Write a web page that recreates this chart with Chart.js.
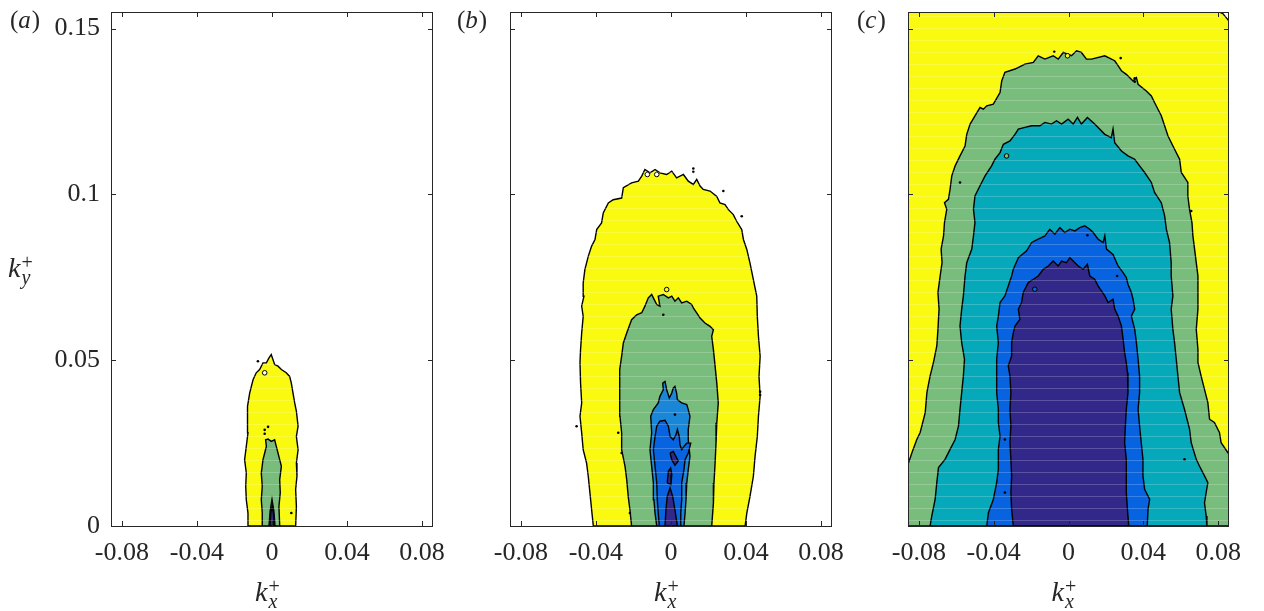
<!DOCTYPE html>
<html>
<head>
<meta charset="utf-8">
<script src="https://cdn.jsdelivr.net/npm/chart.js@4.4.1/dist/chart.umd.min.js"></script>
<style>
  body { margin: 0; background: #fff; width: 1264px; height: 611px; overflow: hidden; position: relative; }
  canvas { position: absolute; top: 0; }
</style>
</head>
<body>
<canvas id="panelA" width="450" height="611" style="left:0px"></canvas>
<canvas id="panelB" width="400" height="611" style="left:450px"></canvas>
<canvas id="panelC" width="414" height="611" style="left:850px"></canvas>
<script>
// axis ticks / limits
const xTicks = [-0.08, -0.04, 0, 0.04, 0.08];
const yTicks = [0, 0.05, 0.1, 0.15];
const xLimits = [-0.0858, 0.0858];
const yLimits = [0, 0.155];

// ---------- panel (a) contours, [kx, ky] ----------
const aYellow = [[-0.0128,0],[-0.0128,0.0039],[-0.0137,0.0079],[-0.0140,0.0120],[-0.0137,0.0160],[-0.0146,0.0200],[-0.0137,0.0240],[-0.0128,0.0281],[-0.0133,0.0321],[-0.0128,0.0361],[-0.0119,0.0401],[-0.0110,0.0421],[-0.0101,0.0441],[-0.0084,0.0462],[-0.0066,0.0472],[-0.0048,0.0492],[-0.0030,0.0492],[-0.0016,0.0507],[-0.0004,0.0517],[0.0014,0.0487],[0.0032,0.0482],[0.0050,0.0472],[0.0076,0.0462],[0.0094,0.0451],[0.0103,0.0431],[0.0112,0.0401],[0.0121,0.0371],[0.0130,0.0346],[0.0139,0.0301],[0.0130,0.0270],[0.0139,0.0230],[0.0130,0.0190],[0.0133,0.0150],[0.0126,0.0110],[0.0130,0.0059],[0.0126,0]];
const aGreen = [[-0.0048,0],[-0.0052,0.0039],[-0.0057,0.0079],[-0.0052,0.0120],[-0.0057,0.0160],[-0.0048,0.0200],[-0.0039,0.0220],[-0.0030,0.0240],[-0.0034,0.0260],[-0.0021,0.0262],[-0.0004,0.0255],[0.0014,0.0260],[0.0023,0.0240],[0.0032,0.0220],[0.0041,0.0200],[0.0050,0.0180],[0.0041,0.0140],[0.0044,0.0100],[0.0037,0.0059],[0.0041,0]];
const aLight = [[-0.0016,0],[-0.0010,0.0045],[0,0.0080],[0.0010,0.0045],[0.0016,0]];
const aNavy = [[-0.0011,0],[-0.0006,0.0040],[0.0001,0.0060],[0.0008,0.0035],[0.0011,0]];
const aSpecks = [[-0.0075,0.0497],[-0.0021,0.0299],[-0.0039,0.0290],[-0.0039,0.0278],[0.0103,0.0039]];
const aRings = [[-0.0039,0.0462]];

// ---------- panel (b) ----------
const bYellow = [[-0.0414,0],[-0.0423,0.0049],[-0.0432,0.0100],[-0.0441,0.0150],[-0.0450,0.0190],[-0.0468,0.0230],[-0.0476,0.0281],[-0.0485,0.0331],[-0.0476,0.0371],[-0.0482,0.0431],[-0.0485,0.0492],[-0.0482,0.0532],[-0.0476,0.0582],[-0.0468,0.0632],[-0.0476,0.0663],[-0.0464,0.0693],[-0.0468,0.0733],[-0.0459,0.0773],[-0.0441,0.0813],[-0.0423,0.0844],[-0.0405,0.0864],[-0.0396,0.0894],[-0.0370,0.0914],[-0.0361,0.0944],[-0.0334,0.0974],[-0.0308,0.0984],[-0.0263,0.0989],[-0.0254,0.1020],[-0.0210,0.1035],[-0.0174,0.1040],[-0.0156,0.1055],[-0.0139,0.1075],[-0.0112,0.1065],[-0.0085,0.1075],[-0.0059,0.1065],[-0.0023,0.1060],[0.0004,0.1070],[0.0030,0.1050],[0.0066,0.1060],[0.0092,0.1040],[0.0119,0.1030],[0.0137,0.1045],[0.0155,0.1025],[0.0172,0.1015],[0.0208,0.1010],[0.0244,0.0994],[0.0261,0.0974],[0.0288,0.0969],[0.0306,0.0954],[0.0332,0.0939],[0.0350,0.0919],[0.0377,0.0894],[0.0386,0.0864],[0.0404,0.0834],[0.0421,0.0793],[0.0439,0.0743],[0.0457,0.0693],[0.0460,0.0632],[0.0466,0.0572],[0.0475,0.0512],[0.0469,0.0451],[0.0475,0.0391],[0.0466,0.0331],[0.0460,0.0270],[0.0448,0.0210],[0.0439,0.0150],[0.0421,0.0089],[0.0404,0.0039],[0.0395,0]];
const bGreen = [[-0.0210,0],[-0.0219,0.0049],[-0.0228,0.0089],[-0.0236,0.0140],[-0.0245,0.0180],[-0.0263,0.0230],[-0.0263,0.0281],[-0.0272,0.0331],[-0.0272,0.0381],[-0.0276,0.0431],[-0.0272,0.0472],[-0.0263,0.0512],[-0.0254,0.0552],[-0.0236,0.0582],[-0.0210,0.0622],[-0.0183,0.0637],[-0.0156,0.0643],[-0.0139,0.0663],[-0.0121,0.0688],[-0.0103,0.0698],[-0.0094,0.0688],[-0.0076,0.0668],[-0.0059,0.0663],[-0.0068,0.0693],[-0.0041,0.0698],[-0.0014,0.0688],[0.0004,0.0693],[0.0021,0.0678],[0.0039,0.0688],[0.0057,0.0673],[0.0084,0.0678],[0.0110,0.0668],[0.0119,0.0658],[0.0137,0.0643],[0.0155,0.0627],[0.0181,0.0612],[0.0208,0.0602],[0.0226,0.0592],[0.0217,0.0572],[0.0226,0.0532],[0.0235,0.0482],[0.0244,0.0431],[0.0252,0.0371],[0.0244,0.0311],[0.0240,0.0250],[0.0235,0.0190],[0.0229,0.0130],[0.0226,0.0069],[0.0217,0]];
const bLight = [[-0.0076,0],[-0.0085,0.0039],[-0.0091,0.0079],[-0.0094,0.0130],[-0.0103,0.0180],[-0.0112,0.0230],[-0.0103,0.0281],[-0.0108,0.0331],[-0.0094,0.0351],[-0.0068,0.0371],[-0.0059,0.0391],[-0.0041,0.0411],[-0.0044,0.0431],[-0.0032,0.0436],[-0.0023,0.0411],[-0.0009,0.0386],[0.0004,0.0401],[0.0012,0.0416],[0.0021,0.0421],[0.0030,0.0401],[0.0034,0.0381],[0.0057,0.0371],[0.0084,0.0366],[0.0092,0.0351],[0.0101,0.0331],[0.0092,0.0291],[0.0092,0.0260],[0.0101,0.0210],[0.0092,0.0170],[0.0084,0.0130],[0.0080,0.0079],[0.0075,0.0039],[0.0069,0]];
const bBlue = [[-0.0062,0],[-0.0068,0.0039],[-0.0073,0.0079],[-0.0076,0.0130],[-0.0085,0.0180],[-0.0094,0.0230],[-0.0085,0.0270],[-0.0076,0.0301],[-0.0059,0.0316],[-0.0032,0.0319],[-0.0014,0.0301],[-0.0005,0.0270],[0.0012,0.0260],[0.0027,0.0276],[0.0034,0.0291],[0.0044,0.0270],[0.0048,0.0245],[0.0057,0.0230],[0.0069,0.0240],[0.0084,0.0250],[0.0105,0.0250],[0.0092,0.0220],[0.0075,0.0200],[0.0069,0.0170],[0.0057,0.0130],[0.0057,0.0079],[0.0052,0.0039],[0.0052,0]];
const bNavy = [[-0.0032,0],[-0.0027,0.0049],[-0.0020,0.0089],[-0.0005,0.0115],[0.0009,0.0089],[0.0021,0.0049],[0.0034,0]];
const bNavyIsle1 = [[-0.0020,0.0130],[-0.0014,0.0165],[-0.0002,0.0175],[0.0004,0.0155],[0.0000,0.0125]];
const bNavyIsle2 = [[-0.0005,0.0220],[0.0012,0.0225],[0.0039,0.0196],[0.0021,0.0183],[0.0004,0.0200]];
const bSpecks = [[0.0119,0.1078],[0.0119,0.1068],[0.0279,0.1010],[0.0377,0.0934],[-0.0041,0.0637],[0.0475,0.0405],[0.0475,0.0395],[-0.0503,0.0301],[-0.0281,0.0281],[-0.0263,0.0220],[-0.0219,0.0039],[0.0021,0.0336]];
const bRings = [[-0.0126,0.1060],[-0.0076,0.1060],[-0.0023,0.0713]];

// ---------- panel (c) ----------
const cYellow = [[-0.0858,0],[-0.0858,0.155],[0.0807,0.155],[0.0825,0.1545],[0.0843,0.1533],[0.0858,0.1523],[0.0858,0]];
const cGreen = [[-0.0858,0],[-0.0858,0.0186],[-0.0837,0.0221],[-0.0811,0.0261],[-0.0793,0.0282],[-0.0766,0.0342],[-0.0757,0.0402],[-0.0740,0.0452],[-0.0722,0.0493],[-0.0704,0.0543],[-0.0698,0.0593],[-0.0692,0.0654],[-0.0698,0.0704],[-0.0686,0.0754],[-0.0676,0.0794],[-0.0681,0.0835],[-0.0668,0.0875],[-0.0663,0.0915],[-0.0651,0.0955],[-0.0663,0.0975],[-0.0642,0.0985],[-0.0633,0.1016],[-0.0624,0.1056],[-0.0606,0.1086],[-0.0580,0.1116],[-0.0553,0.1146],[-0.0544,0.1181],[-0.0526,0.1212],[-0.0500,0.1237],[-0.0473,0.1262],[-0.0455,0.1257],[-0.0437,0.1267],[-0.0402,0.1272],[-0.0366,0.1307],[-0.0357,0.1342],[-0.0340,0.1368],[-0.0286,0.1378],[-0.0233,0.1393],[-0.0188,0.1398],[-0.0162,0.1418],[-0.0126,0.1408],[-0.0082,0.1418],[-0.0055,0.1408],[-0.0028,0.1428],[0.0016,0.1418],[0.0043,0.1433],[0.0069,0.1428],[0.0096,0.1408],[0.0123,0.1408],[0.0194,0.1418],[0.0247,0.1403],[0.0265,0.1388],[0.0283,0.1373],[0.0309,0.1362],[0.0345,0.1342],[0.0363,0.1352],[0.0372,0.1332],[0.0416,0.1312],[0.0443,0.1297],[0.0460,0.1277],[0.0496,0.1237],[0.0532,0.1176],[0.0567,0.1136],[0.0594,0.1106],[0.0603,0.1066],[0.0638,0.1036],[0.0638,0.0995],[0.0647,0.0955],[0.0660,0.0915],[0.0665,0.0875],[0.0674,0.0835],[0.0683,0.0794],[0.0692,0.0754],[0.0692,0.0694],[0.0692,0.0654],[0.0683,0.0593],[0.0692,0.0533],[0.0692,0.0493],[0.0709,0.0452],[0.0727,0.0412],[0.0745,0.0372],[0.0754,0.0322],[0.0780,0.0312],[0.0807,0.0282],[0.0816,0.0251],[0.0858,0.0216],[0.0858,0]];
const cTeal = [[-0.0740,0],[-0.0731,0.0030],[-0.0713,0.0080],[-0.0704,0.0131],[-0.0695,0.0176],[-0.0660,0.0201],[-0.0633,0.0231],[-0.0606,0.0261],[-0.0588,0.0302],[-0.0580,0.0352],[-0.0571,0.0402],[-0.0562,0.0452],[-0.0556,0.0503],[-0.0571,0.0553],[-0.0580,0.0603],[-0.0571,0.0654],[-0.0562,0.0694],[-0.0553,0.0754],[-0.0544,0.0794],[-0.0517,0.0835],[-0.0508,0.0875],[-0.0500,0.0915],[-0.0508,0.0955],[-0.0500,0.0995],[-0.0473,0.1026],[-0.0446,0.1056],[-0.0411,0.1086],[-0.0393,0.1106],[-0.0366,0.1126],[-0.0348,0.1151],[-0.0313,0.1161],[-0.0286,0.1181],[-0.0268,0.1197],[-0.0233,0.1202],[-0.0197,0.1207],[-0.0153,0.1207],[-0.0126,0.1217],[-0.0091,0.1212],[-0.0064,0.1222],[-0.0037,0.1212],[-0.0002,0.1227],[0.0025,0.1212],[0.0048,0.1232],[0.0069,0.1212],[0.0101,0.1232],[0.0140,0.1212],[0.0194,0.1181],[0.0229,0.1171],[0.0238,0.1197],[0.0247,0.1156],[0.0283,0.1131],[0.0318,0.1116],[0.0354,0.1106],[0.0380,0.1086],[0.0407,0.1066],[0.0443,0.1036],[0.0460,0.1006],[0.0496,0.0975],[0.0514,0.0935],[0.0523,0.0895],[0.0540,0.0855],[0.0549,0.0794],[0.0549,0.0754],[0.0558,0.0694],[0.0549,0.0654],[0.0558,0.0593],[0.0567,0.0553],[0.0576,0.0503],[0.0585,0.0452],[0.0594,0.0402],[0.0620,0.0352],[0.0647,0.0292],[0.0656,0.0251],[0.0683,0.0201],[0.0700,0.0181],[0.0727,0.0151],[0.0745,0.0131],[0.0736,0.0101],[0.0727,0.0070],[0.0736,0.0030],[0.0740,0]];
const cBlue = [[-0.0437,0],[-0.0428,0.0040],[-0.0402,0.0080],[-0.0384,0.0131],[-0.0375,0.0171],[-0.0375,0.0231],[-0.0366,0.0271],[-0.0375,0.0312],[-0.0375,0.0352],[-0.0384,0.0402],[-0.0384,0.0452],[-0.0384,0.0503],[-0.0375,0.0553],[-0.0384,0.0603],[-0.0375,0.0633],[-0.0366,0.0674],[-0.0340,0.0694],[-0.0322,0.0724],[-0.0304,0.0754],[-0.0295,0.0774],[-0.0268,0.0809],[-0.0224,0.0830],[-0.0197,0.0855],[-0.0162,0.0865],[-0.0126,0.0875],[-0.0100,0.0895],[-0.0073,0.0880],[-0.0046,0.0900],[-0.0020,0.0885],[0.0007,0.0895],[0.0034,0.0890],[0.0060,0.0900],[0.0087,0.0905],[0.0114,0.0895],[0.0132,0.0885],[0.0158,0.0865],[0.0185,0.0855],[0.0194,0.0875],[0.0203,0.0835],[0.0238,0.0819],[0.0265,0.0784],[0.0292,0.0764],[0.0309,0.0749],[0.0318,0.0729],[0.0336,0.0704],[0.0345,0.0684],[0.0354,0.0654],[0.0336,0.0633],[0.0354,0.0593],[0.0363,0.0553],[0.0372,0.0503],[0.0380,0.0452],[0.0380,0.0402],[0.0372,0.0352],[0.0380,0.0302],[0.0389,0.0251],[0.0398,0.0201],[0.0398,0.0151],[0.0407,0.0111],[0.0434,0.0080],[0.0425,0.0050],[0.0421,0]];
const cNavy = [[-0.0295,0],[-0.0304,0.0050],[-0.0308,0.0101],[-0.0304,0.0151],[-0.0308,0.0201],[-0.0313,0.0251],[-0.0308,0.0302],[-0.0313,0.0352],[-0.0308,0.0402],[-0.0313,0.0452],[-0.0322,0.0483],[-0.0304,0.0513],[-0.0304,0.0553],[-0.0295,0.0583],[-0.0286,0.0603],[-0.0260,0.0623],[-0.0268,0.0654],[-0.0251,0.0674],[-0.0242,0.0704],[-0.0215,0.0734],[-0.0188,0.0744],[-0.0162,0.0754],[-0.0135,0.0774],[-0.0108,0.0784],[-0.0082,0.0799],[-0.0055,0.0784],[-0.0037,0.0799],[-0.0011,0.0794],[0.0007,0.0809],[0.0025,0.0799],[0.0052,0.0784],[0.0078,0.0774],[0.0101,0.0789],[0.0114,0.0754],[0.0140,0.0744],[0.0158,0.0724],[0.0176,0.0709],[0.0194,0.0694],[0.0212,0.0674],[0.0238,0.0684],[0.0247,0.0654],[0.0265,0.0633],[0.0283,0.0603],[0.0292,0.0563],[0.0300,0.0523],[0.0309,0.0493],[0.0315,0.0463],[0.0318,0.0402],[0.0309,0.0352],[0.0304,0.0302],[0.0300,0.0251],[0.0309,0.0201],[0.0309,0.0151],[0.0309,0.0101],[0.0315,0.0050],[0.0322,0]];
const cSpecks = [[-0.0076,0.1430],[0.0279,0.1411],[0.0354,0.1350],[0.0354,0.1340],[-0.0580,0.1036],[0.0101,0.0877],[0.0260,0.0754],[-0.0340,0.0261],[-0.0340,0.0101],[0.0620,0.0201],[0.0656,0.0950]];
const cRings = [[-0.0005,0.1418],[-0.0180,0.0714],[-0.0331,0.1116]];

// ---------- colours ----------
const YELLOW = '#f9fa0f';
const GREEN = '#79bd7c';
const TEAL = '#06a9ba';
const LIGHTBLUE = '#1a86d8';
const BLUE = '#0863e0';
const NAVY = '#32288a';
const FRAME = '#262626';
const FONT = '"Liberation Serif", "DejaVu Serif", serif';

function contour(points, color, order) {
  const closed = points.concat([points[0]]);
  return {
    data: closed.map(p => ({ x: p[0], y: p[1] })),
    showLine: true,
    fill: 'shape',
    backgroundColor: color,
    borderColor: '#000',
    borderWidth: 1.4,
    pointRadius: 0,
    tension: 0,
    order: order
  };
}

function specks(points) {
  return {
    data: points.map(p => ({ x: p[0], y: p[1] })),
    showLine: false,
    pointRadius: 1.3,
    pointBackgroundColor: '#000',
    pointBorderWidth: 0,
    order: -2
  };
}

function rings(points, fills) {
  return {
    data: points.map(p => ({ x: p[0], y: p[1] })),
    showLine: false,
    pointRadius: 2.3,
    pointBackgroundColor: fills,
    pointBorderColor: '#000',
    pointBorderWidth: 1,
    order: -1
  };
}

function drawK(ctx, x, y, sub, size) {
  ctx.fillStyle = FRAME;
  ctx.textBaseline = 'alphabetic';
  ctx.textAlign = 'left';
  ctx.font = 'italic ' + size + 'px ' + FONT;
  ctx.fillText('k', x, y);
  const w = ctx.measureText('k').width;
  ctx.font = 'italic ' + Math.round(size * 0.7) + 'px ' + FONT;
  ctx.fillText(sub, x + w + 1, y + 7);
  ctx.font = Math.round(size * 0.7) + 'px ' + FONT;
  ctx.fillText('+', x + w + 1, y - 8);
}

function drawPanelLabel(ctx, x, y, letter) {
  ctx.fillStyle = FRAME;
  ctx.textBaseline = 'alphabetic';
  ctx.textAlign = 'left';
  ctx.font = '25px ' + FONT;
  ctx.fillText('(', x, y);
  let cx = x + ctx.measureText('(').width;
  ctx.font = 'italic 25px ' + FONT;
  ctx.fillText(letter, cx, y);
  cx += ctx.measureText(letter).width + 1;
  ctx.font = '25px ' + FONT;
  ctx.fillText(')', cx, y);
}

const framePlugin = {
  id: 'frame',
  afterDatasetsDraw(chart, args, opts) {
    const { ctx, chartArea } = chart;
    const { left, right, top, bottom } = chartArea;
    const xs = chart.scales.x, ys = chart.scales.y;
    ctx.save();
    // faint horizontal rendering stripes seen in the filled contours
    ctx.beginPath();
    ctx.rect(left, top, right - left, bottom - top);
    ctx.clip();
    ctx.strokeStyle = 'rgba(255,255,255,0.2)';
    ctx.lineWidth = 1;
    for (let py = bottom - 5.5; py > top; py -= 12) {
      ctx.beginPath();
      ctx.moveTo(left, py);
      ctx.lineTo(right, py);
      ctx.stroke();
    }
    ctx.restore();

    ctx.save();
    ctx.strokeStyle = FRAME;
    ctx.lineWidth = 1;
    ctx.strokeRect(Math.round(left) + 0.5, Math.round(top) + 0.5, Math.round(right - left) - 1, Math.round(bottom - top));
    const tl = 5;
    ctx.beginPath();
    xTicks.forEach(v => {
      const px = Math.round(xs.getPixelForValue(v)) + 0.5;
      ctx.moveTo(px, bottom); ctx.lineTo(px, bottom - tl);
      ctx.moveTo(px, top); ctx.lineTo(px, top + tl);
    });
    yTicks.forEach(v => {
      const py = Math.round(ys.getPixelForValue(v)) + 0.5;
      ctx.moveTo(left, py); ctx.lineTo(left + tl, py);
      ctx.moveTo(right, py); ctx.lineTo(right - tl, py);
    });
    ctx.stroke();
    ctx.restore();
  },
  afterDraw(chart, args, opts) {
    const { ctx, chartArea } = chart;
    const cx = (chartArea.left + chartArea.right) / 2;
    ctx.save();
    drawK(ctx, cx - 17, 601, 'x', 28);
    if (opts.yTitle) drawK(ctx, 8, 277, 'y', 28);
    drawPanelLabel(ctx, opts.labelX, 28, opts.letter);
    ctx.restore();
  }
};

function makeChart(id, datasets, yWidth, padRight, showY, letter, labelX) {
  return new Chart(document.getElementById(id), {
    type: 'scatter',
    data: { datasets: datasets },
    plugins: [framePlugin],
    options: {
      responsive: false,
      animation: false,
      events: [],
      layout: { padding: { top: 12, right: padRight, left: 0, bottom: 0 } },
      plugins: {
        legend: { display: false },
        tooltip: { enabled: false },
        frame: { yTitle: showY, letter: letter, labelX: labelX }
      },
      scales: {
        x: {
          type: 'linear',
          min: xLimits[0],
          max: xLimits[1],
          afterBuildTicks: s => { s.ticks = xTicks.map(v => ({ value: v })); },
          afterFit: s => { s.height = 85; s.paddingLeft = 0; s.paddingRight = 0; },
          grid: { display: false, drawTicks: false },
          border: { display: false },
          ticks: {
            autoSkip: false,
            maxRotation: 0,
            padding: 12,
            color: FRAME,
            font: { family: FONT, size: 26 },
            callback: v => String(v)
          }
        },
        y: {
          type: 'linear',
          min: yLimits[0],
          max: yLimits[1],
          afterBuildTicks: s => { s.ticks = yTicks.map(v => ({ value: v })); },
          afterFit: s => { s.width = yWidth; s.paddingTop = 0; s.paddingBottom = 0; },
          grid: { display: false, drawTicks: false },
          border: { display: false },
          ticks: {
            display: showY,
            padding: 11,
            color: FRAME,
            font: { family: FONT, size: 26 },
            callback: v => String(v)
          }
        }
      }
    }
  });
}

function drawAll() {
  makeChart('panelA', [
    contour(aYellow, YELLOW, 4),
    contour(aGreen, GREEN, 3),
    contour(aLight, LIGHTBLUE, 2),
    contour(aNavy, NAVY, 1),
    rings(aRings, ['#fff']),
    specks(aSpecks)
  ], 111, 17, true, 'a', 10);

  makeChart('panelB', [
    contour(bYellow, YELLOW, 6),
    contour(bGreen, GREEN, 5),
    contour(bLight, LIGHTBLUE, 4),
    contour(bBlue, BLUE, 3),
    contour(bNavy, NAVY, 2),
    contour(bNavyIsle1, NAVY, 1),
    contour(bNavyIsle2, NAVY, 1),
    rings(bRings, ['#fff', '#fff', YELLOW]),
    specks(bSpecks)
  ], 60, 18, false, 'b', 7);

  makeChart('panelC', [
    contour(cYellow, YELLOW, 5),
    contour(cGreen, GREEN, 4),
    contour(cTeal, TEAL, 3),
    contour(cBlue, BLUE, 2),
    contour(cNavy, NAVY, 1),
    rings(cRings, [YELLOW, BLUE, GREEN]),
    specks(cSpecks)
  ], 58, 35, false, 'c', 7);
}

Promise.all([
  document.fonts.load('26px "Liberation Serif"'),
  document.fonts.load('italic 26px "Liberation Serif"'),
  document.fonts.load('26px "DejaVu Serif"')
]).catch(() => {}).then(drawAll);
</script>
</body>
</html>
